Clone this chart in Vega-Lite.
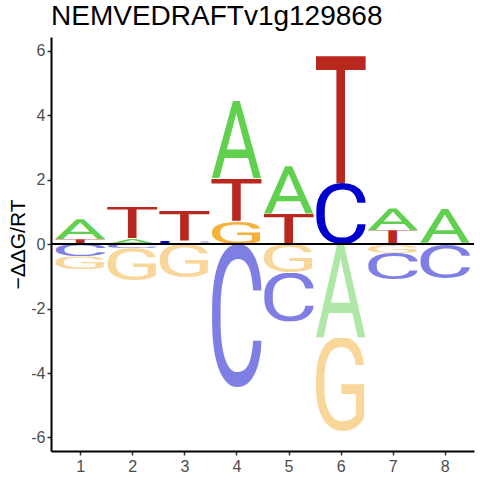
{
  "$schema": "https://vega.github.io/schema/vega-lite/v6.json",
  "width": 423,
  "height": 414,
  "autosize": "none",
  "padding": {"left": 51, "top": 37, "right": 6, "bottom": 29},
  "background": "#ffffff",
  "title": {
    "text": "NEMVEDRAFTv1g129868",
    "anchor": "start",
    "frame": "group",
    "font": "Liberation Sans",
    "fontSize": 28,
    "fontWeight": "normal",
    "color": "#000000",
    "offset": 6
  },
  "datasets": {
    "logo": [
      {"pos": 1, "letter": "T", "ddg": 0.15},
      {"pos": 1, "letter": "A", "ddg": 0.62},
      {"pos": 1, "letter": "C", "ddg": -0.38},
      {"pos": 1, "letter": "G", "ddg": -0.40},
      {"pos": 2, "letter": "A", "ddg": 0.18},
      {"pos": 2, "letter": "T", "ddg": 0.98},
      {"pos": 2, "letter": "C", "ddg": -0.13},
      {"pos": 2, "letter": "G", "ddg": -1.01},
      {"pos": 3, "letter": "C", "ddg": 0.11},
      {"pos": 3, "letter": "T", "ddg": 0.95},
      {"pos": 3, "letter": "G", "ddg": -1.04},
      {"pos": 4, "letter": "G", "ddg": 0.73},
      {"pos": 4, "letter": "T", "ddg": 1.32},
      {"pos": 4, "letter": "A", "ddg": 2.40},
      {"pos": 4, "letter": "C", "ddg": -4.45},
      {"pos": 5, "letter": "T", "ddg": 0.95},
      {"pos": 5, "letter": "A", "ddg": 1.47},
      {"pos": 5, "letter": "G", "ddg": -0.88},
      {"pos": 5, "letter": "C", "ddg": -1.53},
      {"pos": 6, "letter": "C", "ddg": 1.90},
      {"pos": 6, "letter": "T", "ddg": 3.94},
      {"pos": 6, "letter": "A", "ddg": -2.90},
      {"pos": 6, "letter": "G", "ddg": -2.93},
      {"pos": 7, "letter": "T", "ddg": 0.43},
      {"pos": 7, "letter": "A", "ddg": 0.68},
      {"pos": 7, "letter": "G", "ddg": -0.27},
      {"pos": 7, "letter": "C", "ddg": -0.83},
      {"pos": 8, "letter": "G", "ddg": 0.04},
      {"pos": 8, "letter": "A", "ddg": 1.05},
      {"pos": 8, "letter": "C", "ddg": -1.07}
    ],
    "glyphs": [
      {"letter": "A", "url": "data:image/svg+xml;utf8,<svg xmlns='http://www.w3.org/2000/svg' width='97' height='71' viewBox='1.6 -71.1 96.8 71.1' preserveAspectRatio='none'><text x='0' y='0' font-family='Roboto' font-weight='400' font-size='100' textLength='100' lengthAdjust='spacingAndGlyphs' fill='%2361D04F'>A</text></svg>"},
      {"letter": "C", "url": "data:image/svg+xml;utf8,<svg xmlns='http://www.w3.org/2000/svg' width='85' height='74' viewBox='7.8 -72.5 84.7 73.9' preserveAspectRatio='none'><text x='0' y='0' font-family='Roboto' font-weight='400' font-size='100' textLength='100' lengthAdjust='spacingAndGlyphs' fill='%230000CD'>C</text></svg>"},
      {"letter": "G", "url": "data:image/svg+xml;utf8,<svg xmlns='http://www.w3.org/2000/svg' width='84' height='74' viewBox='8 -72.5 83.6 73.9' preserveAspectRatio='none'><text x='0' y='0' font-family='Roboto' font-weight='400' font-size='100' textLength='100' lengthAdjust='spacingAndGlyphs' fill='%23F5B13A'>G</text></svg>"},
      {"letter": "T", "url": "data:image/svg+xml;utf8,<svg xmlns='http://www.w3.org/2000/svg' width='90' height='71' viewBox='4.8 -71.1 90.4 71.1' preserveAspectRatio='none'><text x='0' y='0' font-family='Roboto' font-weight='400' font-size='100' textLength='100' lengthAdjust='spacingAndGlyphs' fill='%23B8281F'>T</text></svg>"}
    ]
  },
  "data": {"name": "logo"},
  "transform": [
    {"calculate": "abs(datum.ddg)", "as": "mag"},
    {"stack": "ddg", "groupby": ["pos"], "sort": [{"field": "mag", "order": "ascending"}], "as": ["y0", "y1"]},
    {"calculate": "datum.pos - 0.48", "as": "xa"},
    {"calculate": "datum.pos + 0.48", "as": "xb"},
    {"lookup": "letter", "from": {"data": {"name": "glyphs"}, "key": "letter", "fields": ["url"]}}
  ],
  "layer": [
    {
      "mark": {"type": "image", "aspect": false},
      "encoding": {
        "x": {
          "field": "xa",
          "type": "quantitative",
          "scale": {"domain": [0.44, 8.56], "nice": false, "zero": false},
          "axis": {"title": null, "values": [1, 2, 3, 4, 5, 6, 7, 8], "format": "d", "labelPadding": 3}
        },
        "x2": {"field": "xb"},
        "y": {
          "field": "y1",
          "type": "quantitative",
          "scale": {"domain": [-6.42, 6.43], "nice": false, "zero": false},
          "axis": {
            "title": "−ΔΔG/RT",
            "values": [-6, -4, -2, 0, 2, 4, 6],
            "labelExpr": "replace(datum.label, '−', '-')",
            "labelPadding": 2,
            "titlePadding": 2
          }
        },
        "y2": {"field": "y0"},
        "url": {"field": "url", "type": "nominal"},
        "opacity": {"condition": {"test": "datum.ddg < 0", "value": 0.5}, "value": 1}
      }
    },
    {
      "mark": {"type": "rule", "color": "#000000", "strokeWidth": 1},
      "encoding": {"y": {"datum": 0, "type": "quantitative"}}
    }
  ],
  "config": {
    "view": {"stroke": null},
    "axis": {
      "grid": false,
      "domainColor": "#000000",
      "domainWidth": 2,
      "tickColor": "#333333",
      "tickWidth": 1.5,
      "tickSize": 4,
      "labelFont": "Liberation Sans",
      "labelFontSize": 16,
      "labelColor": "#4D4D4D",
      "titleFont": "Liberation Sans",
      "titleFontSize": 21,
      "titleFontWeight": "normal",
      "titleColor": "#000000"
    }
  }
}
